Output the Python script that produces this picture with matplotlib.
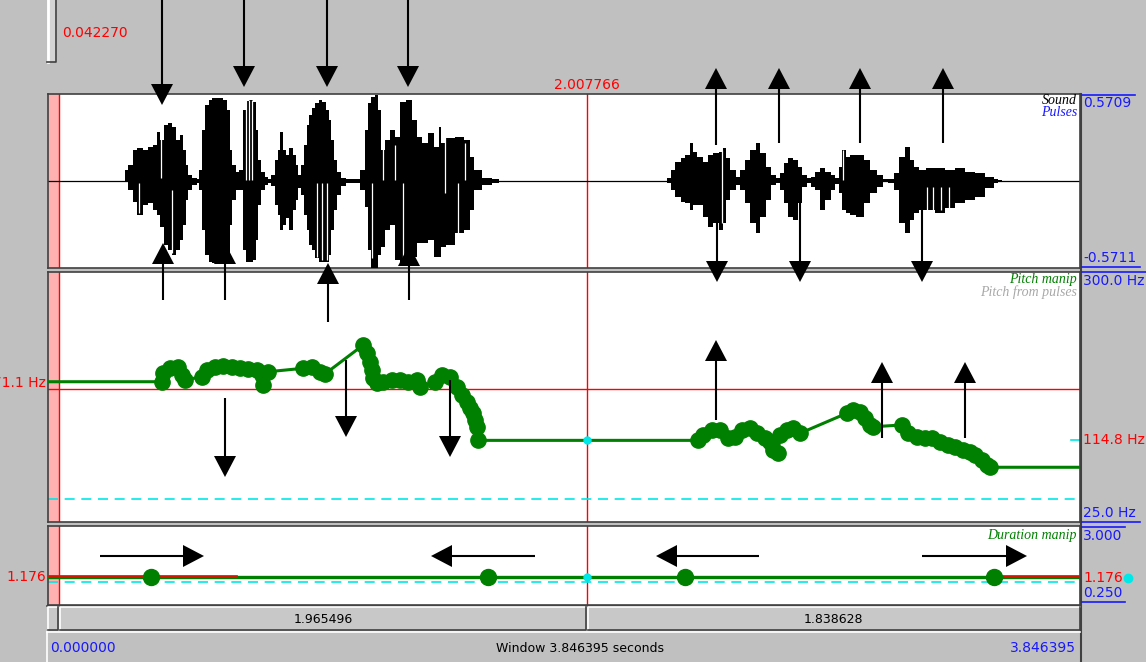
import numpy as np
import matplotlib
matplotlib.use("Agg")
import matplotlib.pyplot as plt
from matplotlib.patches import Rectangle, Polygon
import matplotlib.transforms as mtransforms

# ---- manipulation object -------------------------------------------------
t_total = 3.846395          # window length (s)
sel_start = 0.042270        # left cursor (s)
cursor = 2.007766           # right cursor (s)

# sound: waveform envelope (time s, upper, lower amplitude)
snd_top, snd_bot = 0.5709, -0.5711
snd_t = [0.0, 0.280,
         0.291, 0.306, 0.324, 0.343, 0.362, 0.380, 0.399, 0.410, 0.425, 0.440, 0.455, 0.470, 0.485, 0.496, 0.507, 0.518, 0.529, 0.548, 0.559,
         0.567, 0.581, 0.593, 0.604, 0.622, 0.641, 0.660, 0.671, 0.682, 0.693, 0.708,
         0.719, 0.731, 0.742, 0.757, 0.768, 0.779, 0.790, 0.801, 0.813, 0.827,
         0.839, 0.850, 0.861, 0.872, 0.883, 0.894, 0.906, 0.917, 0.928, 0.939,
         0.947, 0.958, 0.969, 0.980, 0.991, 1.003, 1.014, 1.029, 1.040, 1.051, 1.062, 1.073, 1.085, 1.096, 1.126, 1.155,
         1.174, 1.189, 1.200, 1.211, 1.223, 1.234, 1.245, 1.267, 1.286, 1.301, 1.323, 1.349, 1.368, 1.386, 1.405, 1.424,
         1.450, 1.461, 1.472, 1.498, 1.536, 1.562, 1.580, 1.599, 1.636, 1.673,
         1.690, 2.300,
         2.315, 2.329, 2.348, 2.367, 2.385, 2.400, 2.411, 2.430, 2.456, 2.467, 2.493, 2.512, 2.523, 2.534, 2.553, 2.572,
         2.587, 2.605, 2.628, 2.646, 2.665, 2.684, 2.702, 2.721,
         2.736, 2.747, 2.766, 2.784, 2.803, 2.821, 2.836,
         2.848, 2.866, 2.888, 2.907, 2.926, 2.941,
         2.952, 2.963, 2.982, 3.000, 3.026, 3.053, 3.075, 3.101, 3.120, 3.142,
         3.164, 3.183, 3.202, 3.220, 3.239, 3.257, 3.287, 3.325, 3.362, 3.399, 3.436, 3.474, 3.511, 3.537, 3.548,
         3.560, 3.846395]
snd_hi = [0.0, 0.0,
          0.072, 0.105, 0.203, 0.216, 0.203, 0.223, 0.236, 0.321, 0.269, 0.367, 0.380, 0.354, 0.269, 0.302, 0.203, 0.105, 0.039, 0.020, 0.013,
          0.072, 0.335, 0.499, 0.531, 0.544, 0.544, 0.531, 0.466, 0.203, 0.105, 0.059,
          0.072, 0.466, 0.525, 0.531, 0.518, 0.335, 0.138, 0.059, 0.026, 0.013,
          0.039, 0.138, 0.203, 0.321, 0.203, 0.171, 0.216, 0.171, 0.105, 0.039,
          0.105, 0.236, 0.367, 0.433, 0.479, 0.512, 0.531, 0.518, 0.466, 0.400, 0.269, 0.138, 0.059, 0.020, 0.013, 0.013,
          0.072, 0.335, 0.512, 0.551, 0.564, 0.466, 0.203, 0.269, 0.335, 0.289, 0.518, 0.531, 0.400, 0.289, 0.249, 0.315,
          0.223, 0.354, 0.249, 0.282, 0.289, 0.269, 0.157, 0.072, 0.020, 0.013,
          0.0, 0.0,
          0.020, 0.072, 0.125, 0.151, 0.171, 0.249, 0.190, 0.157, 0.125, 0.171, 0.184, 0.190, 0.216, 0.151, 0.072, 0.026,
          0.072, 0.138, 0.203, 0.249, 0.184, 0.092, 0.039, 0.020,
          0.052, 0.118, 0.151, 0.138, 0.092, 0.039, 0.020,
          0.026, 0.059, 0.085, 0.059, 0.039, 0.020,
          0.092, 0.203, 0.157, 0.171, 0.171, 0.138, 0.072, 0.039, 0.013, 0.013,
          0.052, 0.157, 0.223, 0.138, 0.092, 0.072, 0.085, 0.085, 0.072, 0.085, 0.059, 0.052, 0.026, 0.013, 0.007,
          0.0, 0.0]
snd_lo = [0.0, 0.0,
          -0.007, -0.059, -0.138, -0.223, -0.157, -0.144, -0.190, -0.223, -0.302, -0.420, -0.453, -0.485, -0.453, -0.387, -0.289, -0.125, -0.059, -0.026, -0.013,
          -0.059, -0.321, -0.485, -0.531, -0.538, -0.538, -0.531, -0.505, -0.289, -0.125, -0.059,
          -0.059, -0.453, -0.531, -0.531, -0.518, -0.387, -0.157, -0.059, -0.026, -0.013,
          -0.033, -0.157, -0.223, -0.321, -0.289, -0.243, -0.321, -0.190, -0.125, -0.046,
          -0.092, -0.223, -0.321, -0.420, -0.453, -0.505, -0.531, -0.531, -0.531, -0.485, -0.321, -0.190, -0.092, -0.033, -0.013, -0.013,
          -0.059, -0.171, -0.453, -0.571, -0.571, -0.485, -0.433, -0.321, -0.289, -0.518, -0.531, -0.531, -0.499, -0.407, -0.407, -0.387,
          -0.499, -0.499, -0.433, -0.420, -0.341, -0.321, -0.190, -0.059, -0.026, -0.013,
          0.0, 0.0,
          -0.013, -0.059, -0.105, -0.138, -0.144, -0.190, -0.157, -0.157, -0.236, -0.302, -0.276, -0.321, -0.276, -0.125, -0.059, -0.026,
          -0.059, -0.144, -0.276, -0.341, -0.236, -0.125, -0.026, -0.013,
          -0.059, -0.144, -0.236, -0.256, -0.144, -0.039, -0.013,
          -0.039, -0.059, -0.190, -0.125, -0.059, -0.020,
          -0.079, -0.190, -0.210, -0.223, -0.236, -0.144, -0.079, -0.039, -0.007, -0.013,
          -0.059, -0.276, -0.341, -0.256, -0.210, -0.190, -0.190, -0.210, -0.177, -0.144, -0.125, -0.105, -0.046, -0.013, -0.007,
          0.0, 0.0]
# thin white dropouts inside the waveform (time s, amp from, amp to)
snd_gaps = [(0.340, -0.013, -0.210), (0.420, 0.335, 0.020), (0.461, -0.059, -0.472),
            (0.737, 0.531, 0.007), (0.749, 0.531, 0.007), (0.761, 0.531, 0.007),
            (1.001, -0.013, -0.499), (1.020, -0.013, -0.520), (1.039, -0.013, -0.520),
            (1.206, -0.013, -0.505), (1.250, 0.531, 0.007), (1.293, 0.236, 0.007),
            (1.324, -0.013, -0.520), (1.480, 0.354, -0.079), (1.529, -0.013, -0.380),
            (1.554, 0.250, 0.007),
            (2.511, 0.203, -0.276), (2.963, 0.203, 0.007), (3.275, -0.040, -0.190),
            (3.300, -0.040, -0.190), (3.330, -0.040, -0.190), (3.360, -0.040, -0.180)]

# pitch tier
pitch_top, pitch_bot = 300.0, 25.0
pitch_floor = 50.0
pitch_sel_hz = 171.1
pitch_cursor_hz = 114.8
pitch_t = [0.424, 0.430, 0.455, 0.486, 0.498, 0.511,
           0.573, 0.591, 0.622, 0.653, 0.685, 0.716, 0.747, 0.778, 0.796, 0.801, 0.821,
           0.952, 0.983, 1.014, 1.032,
           1.175, 1.188, 1.200, 1.206, 1.212, 1.225, 1.250, 1.281, 1.312, 1.343, 1.374, 1.386,
           1.442, 1.467, 1.498, 1.523, 1.542, 1.560, 1.573, 1.585, 1.591, 1.598, 1.604,
           2.423, 2.442, 2.474, 2.505, 2.536, 2.561, 2.585, 2.616, 2.641, 2.672, 2.691, 2.703, 2.722, 2.728, 2.753, 2.778, 2.803,
           2.977, 3.001, 3.026, 3.045, 3.064, 3.076,
           3.182, 3.206, 3.238, 3.269, 3.294, 3.325, 3.356, 3.380, 3.412, 3.436, 3.455, 3.480, 3.499, 3.511]
pitch_hz = [179.3, 188.6, 194.1, 195.8, 186.7, 181.2,
            184.8, 192.2, 195.8, 196.6, 195.8, 194.1, 193.0, 192.2, 186.7, 175.7, 190.3,
            194.1, 195.8, 190.3, 187.8,
            219.7, 210.6, 201.3, 192.2, 183.1, 177.6, 179.3, 181.2, 181.2, 179.3, 181.2, 173.8,
            179.3, 186.7, 184.8, 173.8, 164.7, 157.3, 150.1, 144.6, 137.2, 129.8, 114.8,
            114.8, 120.7, 126.2, 126.2, 117.1, 118.8, 126.2, 128.1, 122.6, 117.1, 113.3, 104.2, 100.6, 120.7, 126.2, 128.1, 122.6,
            144.6, 148.2, 146.3, 139.1, 131.7, 129.8,
            131.7, 122.6, 118.8, 117.1, 117.1, 113.3, 109.7, 107.8, 104.2, 102.3, 98.7, 93.2, 87.7, 85.2]

# duration tier
dur_top, dur_bot = 3.0, 0.25
dur_ref = 1.0
dur_value = 1.176
dur_t = [0.384, 1.640, 2.374, 3.526]
dur_v = [1.176, 1.176, 1.176, 1.176]
dur_red_spans = [(0.0, 0.704), (3.548, 3.846395)]

# ---- layout (pixels) -------------------------------------------------------
W, H = 1146, 662
X0, X1 = 48, 1080
GREEN, RED, BLUE, CYAN = '#008000', '#ff0000', '#1818ff', '#00e8e8'
PINK, FRAME, BG = '#ffb0b0', '#404040', '#c0c0c0'
NUMFONT = dict(family='DejaVu Sans', fontsize=10)
LBLFONT = dict(family='Liberation Serif', style='italic', fontsize=10)

fig = plt.figure(figsize=(W / 100, H / 100), dpi=100)
fig.patch.set_facecolor(BG)


def tx(t):
    return X0 + t / t_total * (X1 - X0)


def panel(y0, y1):
    ax = fig.add_axes([X0 / W, 1 - y1 / H, (X1 - X0) / W, (y1 - y0) / H], zorder=1)
    ax.set_facecolor('white')
    ax.set_xlim(0, t_total)
    ax.set_xticks([])
    ax.set_yticks([])
    for s in ax.spines.values():
        s.set_color(FRAME)
        s.set_linewidth(1.2)
    ax.axvspan(0, sel_start, color=PINK, lw=0, zorder=0)
    ax.axvline(sel_start, color=RED, lw=1, zorder=1)
    ax.axvline(cursor, color=RED, lw=1, zorder=1)
    return ax


# background chrome in pixel coordinates
bg = fig.add_axes([0, 0, 1, 1], zorder=0)
bg.set_xlim(0, W)
bg.set_ylim(H, 0)
bg.axis('off')

# sound
snd = panel(94, 268)
snd.set_ylim(snd_bot, snd_top)
snd.axhline(0, color='black', lw=0.9, zorder=2)
snd.fill_between(snd_t, snd_lo, snd_hi, step='mid', color='black', lw=0, zorder=3)
for t, a0, a1 in snd_gaps:
    snd.vlines(t, min(a0, a1), max(a0, a1), color='white', lw=0.9, zorder=4)

# pitch
pit = panel(272, 522)
pit.set_ylim(pitch_bot, pitch_top)
pit.axhline(pitch_sel_hz, color=RED, lw=1, zorder=1)
pit.axhline(pitch_floor, color=CYAN, lw=1.2, ls=(0, (6, 4)), zorder=1)
pit.axhline(pitch_cursor_hz, xmin=0.991, xmax=1, color=CYAN, lw=1.2, zorder=2)
line_t = [0] + pitch_t + [t_total]
line_hz = [pitch_hz[0]] + pitch_hz + [pitch_hz[-1]]
pit.plot(line_t, line_hz, color=GREEN, lw=2.2, zorder=3)
pit.plot(pitch_t, pitch_hz, 'o', color=GREEN, ms=11, mec=GREEN, zorder=4)
pit.plot(cursor, pitch_cursor_hz, 'o', color=CYAN, ms=5, zorder=5)

# duration: axis 527..602 px holds 3.000..0.250
pp = (dur_top - dur_bot) / (602 - 527)
dur = panel(526, 605)
dur.set_ylim(dur_bot - 3 * pp, dur_top + 1 * pp)
dur.axhline(dur_ref, color=CYAN, lw=1.2, ls=(0, (6, 4)), zorder=1)
dur.plot([0] + dur_t + [t_total], [dur_v[0]] + dur_v + [dur_v[-1]], color=GREEN, lw=2.4, zorder=3)
up1 = mtransforms.offset_copy(dur.transData, fig=fig, x=0, y=1.2, units='dots')
for a, b in dur_red_spans:
    dur.plot([a, b], [dur_value, dur_value], color=RED, lw=1.2, transform=up1, zorder=4)
dur.plot(dur_t, dur_v, 'o', color=GREEN, ms=11.5, mec=GREEN, zorder=5)
dur.plot(cursor, dur_value, 'o', color=CYAN, ms=5, zorder=6)

# right border running to the bottom
bg.plot([X1 + 1, X1 + 1], [94, H], color=FRAME, lw=1.5)

# top-left slider knob
bg.add_patch(Rectangle((47, -2), 10, 64, fc='#d4d4d4', ec='none'))
bg.plot([48, 48], [0, 62], color='white', lw=2)
bg.plot([56, 56, 47], [0, 62, 62], color=FRAME, lw=1.2)

# cursor readouts
bg.text(62, 33, f"{sel_start:.6f}", color=RED, va='center', ha='left', **NUMFONT)
bg.text(tx(cursor), 85, f"{cursor:.6f}", color=RED, va='center', ha='center', **NUMFONT)


# right-hand scale labels
def rlabel(y, s, color, va, line=None):
    bg.text(1083, y, s, color=color, va=va, ha='left', **NUMFONT)
    if line is not None:
        yl, x2 = line
        bg.plot([1082, x2], [yl, yl], color=BLUE, lw=1.2)


rlabel(96, f"{snd_top:.4f}", BLUE, 'top', (94.5, 1135))
rlabel(265, f"{snd_bot:.4f}", BLUE, 'bottom', (267, 1140))
rlabel(274, f"{pitch_top:.1f} Hz", BLUE, 'top', (272, 1146))
rlabel(440, f"{pitch_cursor_hz:.1f} Hz", RED, 'center')
rlabel(520, f"{pitch_bot:.1f} Hz", BLUE, 'bottom', (522, 1140))
rlabel(529, f"{dur_top:.3f}", BLUE, 'top', (527, 1125))
rlabel(578, f"{dur_value:.3f}", RED, 'center')
rlabel(600, f"{dur_bot:.3f}", BLUE, 'bottom', (602, 1125))
bg.plot([1128], [578], 'o', color=CYAN, ms=6)

# left-hand value labels (the pitch one runs off the window edge)
bg.text(46, 383, f"{pitch_sel_hz:.1f} Hz", color=RED, va='center', ha='right', **NUMFONT)
bg.text(46, 577, f"{dur_value:.3f}", color=RED, va='center', ha='right', **NUMFONT)


# bottom button bar
def button(x0, x1, y0, y1, label=None):
    bg.add_patch(Rectangle((x0, y0), x1 - x0, y1 - y0, fc='#c8c8c8', ec='none'))
    bg.plot([x0 + 1, x0 + 1, x1 - 1], [y1 - 1, y0 + 1, y0 + 1], color='white', lw=1.2)
    bg.plot([x0 + 1, x1 - 1, x1 - 1], [y1 - 1, y1 - 1, y0 + 1], color=FRAME, lw=1.2)
    if label:
        bg.text((x0 + x1) / 2, (y0 + y1) / 2 + 1, label, color='black', ha='center', va='center',
                family='DejaVu Sans', fontsize=9)


bg.plot([X0 - 1, X1 + 1], [605.5, 605.5], color=FRAME, lw=1.2)
button(X0 - 1, tx(sel_start), 606, 631)
button(tx(sel_start), tx(cursor), 606, 631, "1.965496")
button(tx(cursor), X1 + 1, 606, 631, "1.838628")
bg.plot([X0 - 1, X1], [632, 632], color='white', lw=1.2)
bg.plot([X0 - 1, X0 - 1], [632, H], color='white', lw=1.2)
bg.text(50, 648, f"{0:.6f}", color=BLUE, ha='left', va='center', **NUMFONT)
bg.text(580, 648, f"Window {t_total:.6f} seconds", color='black', ha='center', va='center',
        family='DejaVu Sans', fontsize=9)
bg.text(1076, 648, f"{t_total:.6f}", color=BLUE, ha='right', va='center', **NUMFONT)

# panel legends
ov = fig.add_axes([0, 0, 1, 1], zorder=5)
ov.set_xlim(0, W)
ov.set_ylim(H, 0)
ov.axis('off')
for y, s, c in [(101, "Sound", 'black'), (113, "Pulses", BLUE),
                (279, "Pitch manip", GREEN), (292, "Pitch from pulses", '#a8a8a8'),
                (535, "Duration manip", GREEN)]:
    ov.text(1077, y, s, color=c, ha='right', va='center', **LBLFONT)

# annotation arrows: (tail x, tail y, tip x, tip y)
arrows = [
    (162, 0, 162, 105), (244, 0, 244, 87), (327, 0, 327, 87), (408, 0, 408, 87),
    (163, 300, 163, 243), (225, 300, 225, 243), (328, 322, 328, 263), (409, 300, 409, 245),
    (716, 145, 716, 68), (779, 143, 779, 68), (860, 143, 860, 68), (943, 143, 943, 68),
    (717, 195, 717, 282), (800, 203, 800, 282), (922, 207, 922, 282),
    (225, 398, 225, 477), (346, 360, 346, 437), (450, 380, 450, 457),
    (716, 420, 716, 340), (882, 438, 882, 362), (965, 438, 965, 362),
    (100, 556, 204, 556), (535, 556, 431, 556), (759, 556, 656, 556), (922, 556, 1027, 556),
]
HEAD_W, HEAD_L = 22, 21
for x0, y0, x1, y1 in arrows:
    d = np.array([x1 - x0, y1 - y0], float)
    u = d / np.hypot(*d)
    n = np.array([-u[1], u[0]])
    base = np.array([x1, y1]) - u * HEAD_L
    ov.plot([x0, base[0]], [y0, base[1]], color='black', lw=1.5, solid_capstyle='butt')
    ov.add_patch(Polygon([(x1, y1), base + n * HEAD_W / 2, base - n * HEAD_W / 2],
                         closed=True, fc='black', ec='none'))

fig.savefig('out.png', dpi=100, facecolor=fig.get_facecolor())
